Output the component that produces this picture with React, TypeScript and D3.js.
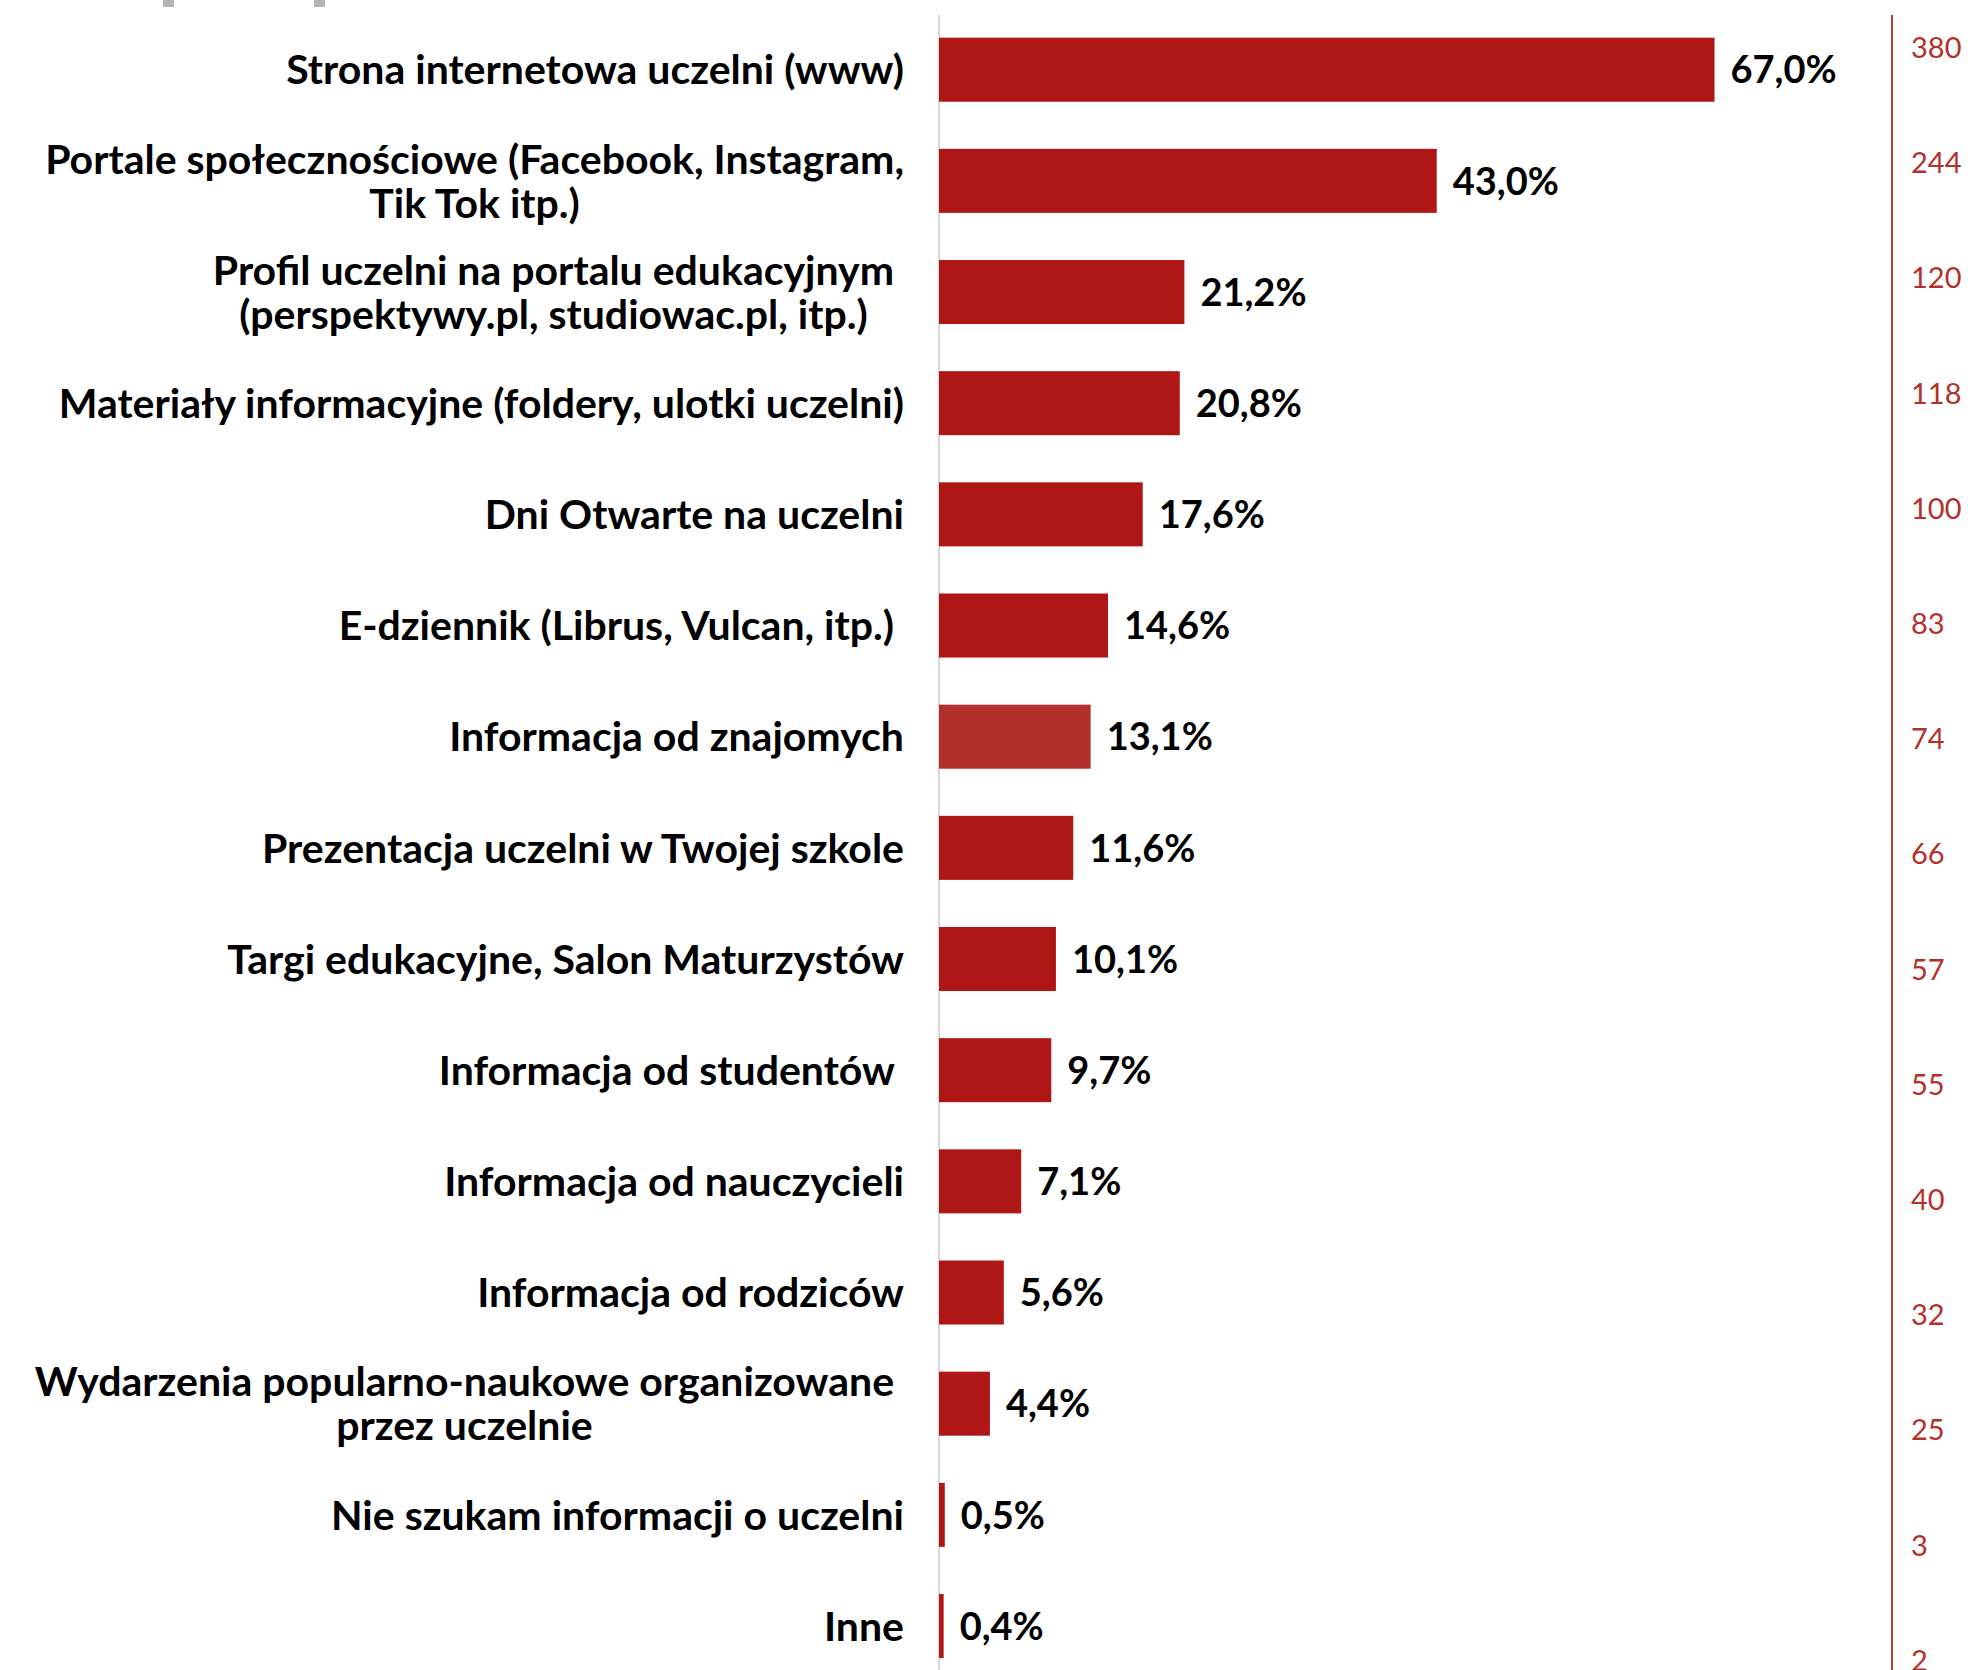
import React, { useEffect, useRef } from "react";
import * as d3 from "d3";

const categories: string[][] = [
  ["Strona internetowa uczelni (www)"],
  ["Portale społecznościowe (Facebook, Instagram,", "Tik Tok itp.)"],
  ["Profil uczelni na portalu edukacyjnym ", "(perspektywy.pl, studiowac.pl, itp.) "],
  ["Materiały informacyjne (foldery, ulotki uczelni)"],
  ["Dni Otwarte na uczelni"],
  ["E-dziennik (Librus, Vulcan, itp.) "],
  ["Informacja od znajomych"],
  ["Prezentacja uczelni w Twojej szkole"],
  ["Targi edukacyjne, Salon Maturzystów"],
  ["Informacja od studentów "],
  ["Informacja od nauczycieli"],
  ["Informacja od rodziców"],
  ["Wydarzenia popularno-naukowe organizowane ", "przez uczelnie "],
  ["Nie szukam informacji o uczelni"],
  ["Inne"],
];

const percentValues: number[] = [67.0, 43.0, 21.2, 20.8, 17.6, 14.6, 13.1, 11.6, 10.1, 9.7, 7.1, 5.6, 4.4, 0.5, 0.4];

const counts: number[] = [380, 244, 120, 118, 100, 83, 74, 66, 57, 55, 40, 32, 25, 3, 2];

const highlightedCategory = "Informacja od znajomych";

const W = 1968;
const H = 1670;
const FONT = "'Century Gothic', 'URW Gothic', Lato, 'Open Sans', sans-serif";

export default function App() {
  const ref = useRef<SVGSVGElement | null>(null);

  useEffect(() => {
    document.body.style.margin = "0";
    const svg = d3.select(ref.current!);
    svg.selectAll("*").remove();

    const idx = d3.range(categories.length);
    const axisX = 939;
    const labelRight = 904;

    const x = d3.scaleLinear().domain([0, 100]).range([axisX, axisX + 1157.5]);
    const y = d3
      .scaleBand<number>()
      .domain(idx)
      .range([14.1, 1681.6])
      .paddingInner(0.424)
      .paddingOuter(0.212);
    const yRight = d3.scaleBand<number>().domain(idx).range([-10, 1718]);

    // stray gray marks at the top (cut-off heading)
    svg.append("rect").attr("x", 163).attr("y", 0).attr("width", 11).attr("height", 7).attr("fill", "#b4b4b4");
    svg.append("rect").attr("x", 314).attr("y", 0).attr("width", 11).attr("height", 7).attr("fill", "#b4b4b4");

    // left axis line
    svg.append("line").attr("x1", axisX).attr("x2", axisX).attr("y1", 15).attr("y2", H)
      .attr("stroke", "#d9d9d9").attr("stroke-width", 2);

    // bars
    svg.append("g").selectAll("rect").data(idx).join("rect")
      .attr("x", x(0))
      .attr("y", (i) => y(i)!)
      .attr("width", (i) => x(percentValues[i]) - x(0))
      .attr("height", y.bandwidth())
      .attr("fill", (i) => (categories[i][0] === highlightedCategory ? "#b2302c" : "#ae1716"));

    // value labels
    svg.append("g").selectAll("text").data(idx).join("text")
      .attr("x", (i) => x(percentValues[i]) + 16)
      .attr("y", (i) => y(i)! + y.bandwidth() / 2)
      .attr("dy", "0.36em")
      .attr("font-family", FONT)
      .attr("font-weight", 700)
      .attr("font-size", 38)
      .attr("fill", "#000")
      .text((i) => percentValues[i].toFixed(1).replace(".", ",") + "%");

    // category labels
    const lineGap = 44;
    const gLab = svg.append("g");
    idx.forEach((i) => {
      const lines = categories[i];
      const cy = y(i)! + y.bandwidth() / 2;
      const texts = lines.map((ln, k) =>
        gLab.append("text")
          .attr("y", cy + (k - (lines.length - 1) / 2) * lineGap)
          .attr("dy", "0.36em")
          .attr("font-family", FONT)
          .attr("font-weight", 700)
          .attr("font-size", 41)
          .attr("fill", "#000")
          .attr("text-anchor", "middle")
          .style("white-space", "pre")
          .text(ln)
      );
      const widths = texts.map((t) => (t.node() as SVGTextElement).getComputedTextLength());
      const maxW = d3.max(widths) || 0;
      texts.forEach((t) => t.attr("x", labelRight - maxW / 2));
    });

    // right axis
    const rightX = 1892;
    svg.append("line").attr("x1", rightX).attr("x2", rightX).attr("y1", 15).attr("y2", H)
      .attr("stroke", "#c0392b").attr("stroke-width", 2);
    svg.append("g").selectAll("text").data(idx).join("text")
      .attr("x", 1911)
      .attr("y", (i) => yRight(i)! + yRight.bandwidth() / 2)
      .attr("dy", "0.36em")
      .attr("font-family", FONT)
      .attr("font-size", 29)
      .attr("fill", "#b5302b")
      .text((i) => String(counts[i]));
  }, []);

  return (
    <svg
      ref={ref}
      width={W}
      height={H}
      style={{ position: "absolute", left: 0, top: 0, overflow: "hidden", background: "#fff" }}
    />
  );
}
